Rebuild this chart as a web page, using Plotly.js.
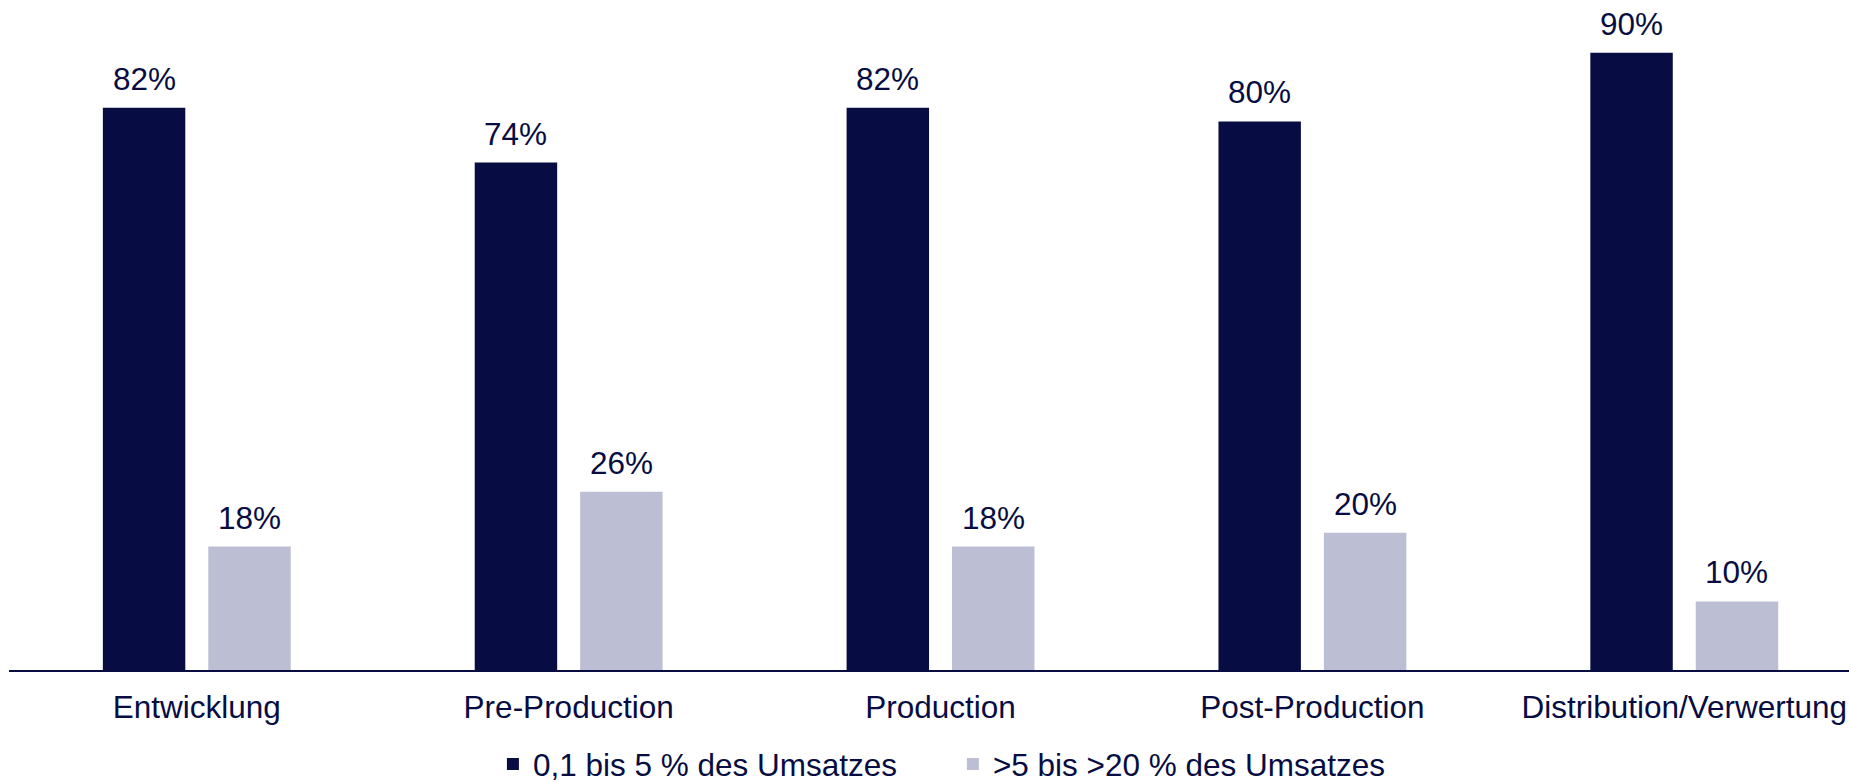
<!DOCTYPE html>
<html>
<head>
<meta charset="utf-8">
<script src="https://cdn.plot.ly/plotly-3.0.1.min.js"></script>
<style>html,body{margin:0;padding:0;background:#fff;}#chart{width:1849px;height:782px;}</style>
</head>
<body>
<div id="chart"></div>
<script>
const categories = ["Entwicklung", "Pre-Production", "Production", "Post-Production", "Distribution/Verwertung"];
const seriesNames = ["0,1 bis 5 % des Umsatzes", ">5 bis >20 % des Umsatzes"];
const lowShare = [82, 74, 82, 80, 90];
const highShare = [18, 26, 18, 20, 10];

const DARK = "#070d42";
const LIGHT = "#bcbfd3";
const FONT = "Liberation Sans, Arial, sans-serif";
const FS = 31.5;

const traces = [
  {
    type: "bar", name: seriesNames[0], x: categories, y: lowShare,
    marker: {color: DARK}, hoverinfo: "x+y"
  },
  {
    type: "bar", name: seriesNames[1], x: categories, y: highShare,
    marker: {color: LIGHT}, hoverinfo: "x+y"
  }
];

// value labels placed at each bar's data coordinates (offset to the bar's group slot)
const SLOT_SHIFT = 52.7;
const annotations = [];
[lowShare, highShare].forEach((vals, s) => {
  vals.forEach((v, i) => {
    annotations.push({
      x: categories[i], y: v, xref: "x", yref: "y",
      text: v + "%", showarrow: false,
      xanchor: "center", yanchor: "bottom",
      xshift: s === 0 ? -SLOT_SHIFT : SLOT_SHIFT, yshift: 9,
      font: {family: FONT, size: FS, color: DARK}
    });
  });
});

const layout = {
  width: 1849, height: 782,
  margin: {l: 9, r: 0, t: 0, b: 112, pad: 0, autoexpand: false},
  paper_bgcolor: "#fff", plot_bgcolor: "#fff",
  font: {family: FONT, size: FS, color: DARK},
  barmode: "group", bargap: 0.433, bargroupgap: 0.218,
  showlegend: true,
  legend: {
    orientation: "h", x: 0.263, xanchor: "left",
    yref: "container", y: 0.023, yanchor: "middle",
    font: {family: FONT, size: FS, color: DARK},
    entrywidth: 415, entrywidthmode: "pixels", traceorder: "normal"
  },
  annotations: annotations,
  xaxis: {
    range: [-0.505, 4.443], showgrid: false, zeroline: false,
    showline: true, linecolor: DARK, linewidth: 2,
    ticks: "outside", ticklen: 8, tickcolor: "rgba(0,0,0,0)",
    tickfont: {family: FONT, size: FS, color: DARK}, fixedrange: true,
    automargin: false
  },
  yaxis: {
    range: [0, 97.7], visible: false, showgrid: false, zeroline: false, fixedrange: true
  }
};

Plotly.newPlot("chart", traces, layout, {displayModeBar: false, staticPlot: true});
</script>
</body>
</html>
